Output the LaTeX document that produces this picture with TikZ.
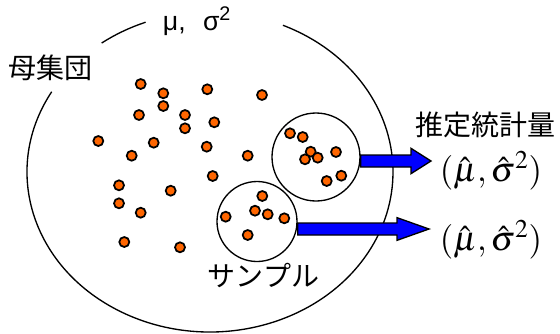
\documentclass[tikz,border=0pt]{standalone}
\usepackage{mathptmx}
\usepackage[no-math]{fontspec}
\usepackage{xcolor}
\usepackage{tikz}
\usetikzlibrary{calc}
\newfontfamily\jpfont{Noto Sans CJK JP}
\newfontfamily\grfont{Liberation Sans}
\definecolor{dotorange}{RGB}{255,102,0}
\definecolor{arrowblue}{RGB}{0,0,255}

\begin{document}
\begin{tikzpicture}[
  x=0.75pt, y=0.75pt,
  line width=1pt,
  jptext/.style={inner sep=0pt, font=\jpfont\fontsize{21}{24}\selectfont},
  estimate/.style={inner sep=0pt, font=\fontsize{26}{30}\selectfont},
  sample/.style={circle, draw, inner sep=0pt},
  dot/.style={draw, fill=dotorange, line width=1.3pt},
  blockarrow/.style={draw, fill=arrowblue, line width=1pt}
]
  \useasboundingbox (0,0) rectangle (560,-333);
  % population
  \coordinate (pop) at (210,-172);
  \draw (pop) ++(149.9:183 and 160)
    arc[start angle=149.9, end angle=426.5, x radius=183, y radius=160];
  \draw (pop) ++(110.6:183 and 160)
    arc[start angle=110.6, end angle=126.3, x radius=183, y radius=160];
  \node[jptext] (poplabel) at (50.5,-67.5) {母集団};
  \node[inner sep=0pt, font=\grfont\fontsize{20}{22}\selectfont] (params)
    at (197,-21) {μ,\hspace{13pt}σ\textsuperscript{2}};
  \foreach \x/\y in {140.7/84, 163.3/93.3, 163.3/106, 207.3/89.3, 262/95,
      139/115, 185/115, 185/128.3, 214.3/122.3, 98.3/141, 153.7/142.7,
      206.7/146.7, 131.7/155.7, 247.7/155.7, 212.7/176, 119/185.3,
      170.7/190.7, 119/203.3, 140.7/212.7, 124.3/242, 180/247.3}
    \draw[dot] (\x,-\y) circle[radius=5];
  % samples
  \node[sample, minimum size=66pt] (s1) at (316,-157) {};
  \node[sample, minimum size=60pt] (s2) at (257,-221.5) {};
  \foreach \x/\y in {290/133.3, 302.7/137, 310.7/151.7, 305/159.3,
      317.7/157.7, 336/152, 341.3/175.7, 326.7/181,
      262.3/196, 255/210.7, 267.7/214.3, 284.3/218.3, 225.7/216.7, 247.7/235}
    \draw[dot] (\x,-\y) circle[radius=5];
  \node[jptext] (samplelabel) at (263.5,-275.5) {サンプル};
  % estimates
  \node[jptext] (stat) at (485.5,-125) {推定統計量};
  \node[estimate] (e1) at (491,-171) {$(\hat{\mu},\hat{\sigma}^2)$};
  \node[estimate] (e2) at (491,-240) {$(\hat{\mu},\hat{\sigma}^2)$};
  \coordinate (tip1) at (431,-161);
  \coordinate (tip2) at (429,-229);
  \draw[blockarrow] let \p1=(tip1 -| s1.east), \p2=(tip1) in
    (\x1,\y1+4.5pt) -- (\x2-15pt,\y1+4.5pt) -- (\x2-15pt,\y1+9.5pt) -- (\p2)
    -- (\x2-15pt,\y1-9.5pt) -- (\x2-15pt,\y1-4.5pt) -- (\x1,\y1-4.5pt) -- cycle;
  \draw[blockarrow] let \p1=(tip2 -| s2.east), \p2=(tip2) in
    (\x1,\y1+4.5pt) -- (\x2-24pt,\y1+4.5pt) -- (\x2-24pt,\y1+8.5pt) -- (\p2)
    -- (\x2-24pt,\y1-8.5pt) -- (\x2-24pt,\y1-4.5pt) -- (\x1,\y1-4.5pt) -- cycle;
\end{tikzpicture}
\end{document}
